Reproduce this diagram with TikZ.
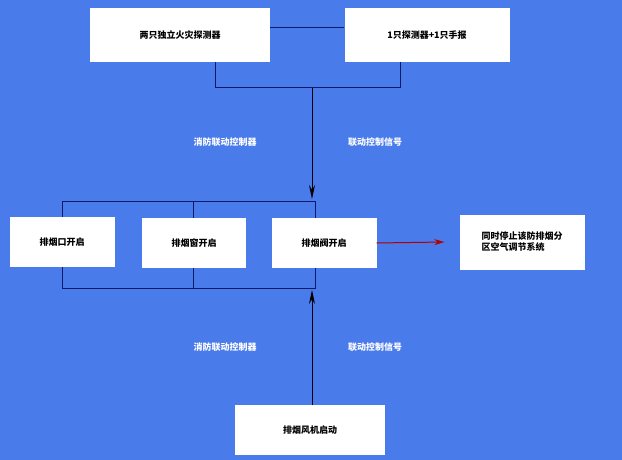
\documentclass[tikz,border=0pt]{standalone}
\usepackage{fontspec}
\newfontfamily\cjk{Noto Sans CJK SC}
\usetikzlibrary{arrows.meta}
\definecolor{bg}{HTML}{4A7BEA}
\definecolor{ln}{HTML}{0A1A6A}
\begin{document}
\begin{tikzpicture}[x=1pt,y=-1pt,font=\cjk\small\bfseries,
  wbox/.style={draw=none,fill=white,inner sep=0pt},
  lnk/.style={ln,line width=1pt},
  lbl/.style={text=white,font=\cjk\small\bfseries}]
\fill[bg] (0,0) rectangle (622,460);
\useasboundingbox (0,0) rectangle (622,460);
\draw[lnk] (62,201) rectangle (315,288);
\draw[lnk] (193,201) -- (193,288);
\node[wbox,minimum width=180,minimum height=54] (a) at (180,35) {两只独立火灾探测器};
\node[wbox,minimum width=165,minimum height=54] (b) at (427,35) {1只探测器+1只手报};
\draw[lnk] (a.east |- 0,28) -- (b.west |- 0,28);
\coordinate (j) at (312,88);
\draw[lnk] (215,62) -- (215,88) -- (400,88) -- (400,62);
\node[wbox,minimum width=105,minimum height=50] (c1) at (62,242) {排烟口开启};
\node[wbox,minimum width=104,minimum height=50] (c2) at (194,243) {排烟窗开启};
\node[wbox,minimum width=105,minimum height=50] (c3) at (324,243) {排烟阀开启};
\coordinate (t) at (312,199);
\coordinate (bt) at (312,290);
\draw[lnk,-{Stealth[length=14pt,width=6pt]},black] (j) -- (t);
\node[wbox,minimum width=125,minimum height=55,align=left] (d) at (522,242) {同时停止该防排烟分\\区空气调节系统};
\draw[{Stealth[length=10pt,width=6pt]}-,line width=1pt,red!70!black] (d.west) ++(-15,0) coordinate (dw) -- (c3.east);
\node[wbox,minimum width=150,minimum height=50] (e) at (310,430) {排烟风机启动};
\draw[lnk,-{Stealth[length=14pt,width=6pt]},black] (e.north -| bt) -- (bt);
\node[lbl] (l1) at (225,142) {消防联动控制器};
\node[lbl] (l2) at (375,142) {联动控制信号};
\node[lbl] (l3) at (225,347) {消防联动控制器};
\node[lbl] (l4) at (375,347) {联动控制信号};
\end{tikzpicture}
\end{document}
